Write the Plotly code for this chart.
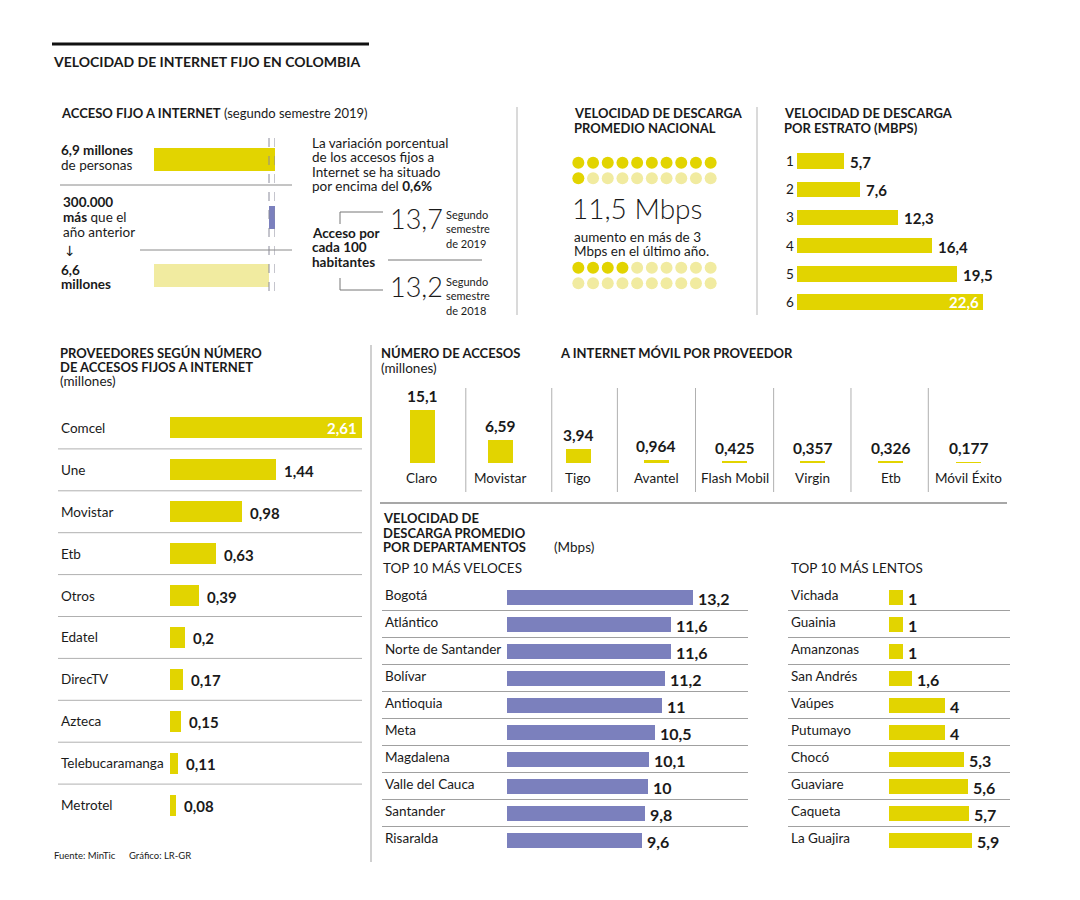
import plotly.graph_objects as go

W, H = 1080, 900
OFF = 8                      # page body margin offset
FW, FH = W - OFF, H - OFF
YELLOW = '#e2d400'
PALE = '#f1eba0'
BLUE = '#7b80bd'
LINE = '#a8a8a8'
TXT = '#1a1a1a'
FONT = 'Lato'
NARROW = 'Liberation Sans Narrow, Lato'

# ---------------- DATA ----------------
acceso_values = [6.9, 0.3, 6.6]          # millones
acceso_base = [0, 6.6, 0]
acceso_colors = [YELLOW, BLUE, PALE]
acceso_hab = ['13,7', '13,2']
acceso_hab_periodo = [['Segundo', 'semestre', 'de 2019'], ['Segundo', 'semestre', 'de 2018']]

vel_nacional = '11,5 Mbps'
dots_total = 20
dots_nacional = 11
dots_aumento = 4

estratos = ['1', '2', '3', '4', '5', '6']
estrato_vel = [5.7, 7.6, 12.3, 16.4, 19.5, 22.6]

proveedores = ['Comcel', 'Une', 'Movistar', 'Etb', 'Otros', 'Edatel', 'DirecTV',
               'Azteca', 'Telebucaramanga', 'Metrotel']
prov_accesos = [2.61, 1.44, 0.98, 0.63, 0.39, 0.2, 0.17, 0.15, 0.11, 0.08]

movil = ['Claro', 'Movistar', 'Tigo', 'Avantel', 'Flash Mobil', 'Virgin', 'Etb', 'Móvil Éxito']
movil_accesos = [15.1, 6.59, 3.94, 0.964, 0.425, 0.357, 0.326, 0.177]

dep_veloces = ['Bogotá', 'Atlántico', 'Norte de Santander', 'Bolívar', 'Antioquia', 'Meta',
               'Magdalena', 'Valle del Cauca', 'Santander', 'Risaralda']
vel_veloces = [13.2, 11.6, 11.6, 11.2, 11, 10.5, 10.1, 10, 9.8, 9.6]
dep_lentos = ['Vichada', 'Guainia', 'Amanzonas', 'San Andrés', 'Vaúpes', 'Putumayo', 'Chocó',
              'Guaviare', 'Caqueta', 'La Guajira']
vel_lentos = [1, 1, 1, 1.6, 4, 4, 5.3, 5.6, 5.7, 5.9]


def fmt(v):
    return f'{v:g}'.replace('.', ',')


def fx(x):
    return (x - OFF) / FW


def fy(y):
    return 1 - (y - OFF) / FH


layout = dict(width=FW, height=FH, margin=dict(l=0, r=0, t=0, b=0),
              paper_bgcolor='white', plot_bgcolor='rgba(0,0,0,0)',
              showlegend=False, font=dict(family=FONT, color=TXT),
              annotations=[], shapes=[])
traces = []


def sfx(n):
    return '' if n == 1 else str(n)


def axes(n, x0, x1, y0, y1, xr, yr):
    s = sfx(n)
    layout['xaxis' + s] = dict(domain=[fx(x0), fx(x1)], range=xr, anchor='y' + s,
                               visible=False, fixedrange=True)
    layout['yaxis' + s] = dict(domain=[fy(y1), fy(y0)], range=yr, anchor='x' + s,
                               visible=False, fixedrange=True)


def text(x, y, t, size=13, bold=False, anchor='left', color=TXT, family=FONT,
         xref='paper', yref='paper', weight=None, xshift=0, yshift=0, vanchor='middle'):
    if xref == 'paper':
        x = fx(x)
    if yref == 'paper':
        y = fy(y)
    f = dict(size=size, color=color, family=family)
    if weight is not None:
        f['weight'] = weight
    layout['annotations'].append(dict(
        x=x, y=y, xref=xref, yref=yref, text=('<b>%s</b>' % t) if bold else t,
        showarrow=False, xanchor=anchor, yanchor=vanchor, font=f,
        xshift=xshift, yshift=yshift))


def lines(x, y0, dy, items, **kw):
    for i, t in enumerate(items):
        text(x, y0 + i * dy, t, **kw)


def hline(x0, x1, y, color=LINE, width=1, xref='paper', yref='paper', dash=None):
    if xref == 'paper':
        x0, x1 = fx(x0), fx(x1)
    if yref == 'paper':
        y = fy(y)
    ln = dict(color=color, width=width)
    if dash:
        ln['dash'] = dash
    layout['shapes'].append(dict(type='line', x0=x0, x1=x1, y0=y, y1=y, xref=xref, yref=yref, line=ln))


def vline(x, y0, y1, color=LINE, width=1, xref='paper', yref='paper', dash=None):
    if xref == 'paper':
        x = fx(x)
    if yref == 'paper':
        y0, y1 = fy(y0), fy(y1)
    ln = dict(color=color, width=width)
    if dash:
        ln['dash'] = dash
    layout['shapes'].append(dict(type='line', x0=x, x1=x, y0=y0, y1=y1, xref=xref, yref=yref, line=ln))


# ---------------- HEADER ----------------
hline(52, 369, 44, color='#111', width=3)
text(51, 61, 'VELOCIDAD DE INTERNET FIJO EN COLOMBIA', size=14, bold=True)

# panel dividers
vline(517, 107, 315, color='#b5b5b5')
vline(757, 107, 315, color='#b5b5b5')
vline(371, 345, 862, color='#c0c0c0', width=1.5)
hline(380, 1007, 503, color='#8a8a8a', width=1.5)

# ---------------- PANEL 1: acceso fijo ----------------
text(59, 113, '<b>ACCESO FIJO A INTERNET</b> (segundo semestre 2019)', size=13)
axes(1, 154, 275, 130, 305, [0.85, 6.9], [2.5, -0.5])
traces.append(go.Bar(x=acceso_values, y=[0, 1, 2], base=acceso_base, orientation='h',
                     marker=dict(color=acceso_colors, line=dict(width=0)), width=0.39,
                     xaxis='x', yaxis='y', hoverinfo='skip'))
vline(acceso_base[1], 138, 298, color='#8a8a9a', xref='x', dash='dash')
vline(acceso_values[0], 138, 298, color='#8a8a9a', xref='x', dash='dash')
hline(60, 292, 185, color='#8a8a8a')
hline(140, 292, 250, color='#8a8a8a')
lines(59, 150, 15, ['<b>6,9 millones</b>', 'de personas'], size=13.5)
lines(61, 202, 15, ['<b>300.000</b>', '<b>más</b> que el', 'año anterior'], size=13.5)
text(70, 251, '↓', size=14, anchor='center', family='DejaVu Sans')
lines(59, 270, 14.5, ['<b>6,6</b>', '<b>millones</b>'], size=13.5)
lines(310, 143, 14.4, ['La variación porcentual', 'de los accesos fijos a',
                       'Internet se ha situado', 'por encima del <b>0,6%</b>'], size=13.5)
lines(310, 233, 14.5, ['Acceso por', 'cada 100', 'habitantes'], size=13.5, bold=True)
hline(340, 383, 212, color='#777')
vline(340, 212, 224, color='#777')
vline(340, 278, 290, color='#777')
hline(340, 383, 290, color='#777')
hline(388, 482, 260, color='#777')
text(388, 218, acceso_hab[0], size=27, weight=300)
text(388, 287, acceso_hab[1], size=27, weight=300)
lines(444, 214, 14.5, acceso_hab_periodo[0], size=11, family=NARROW)
lines(444, 281, 14.5, acceso_hab_periodo[1], size=11, family=NARROW)

# ---------------- PANEL 2: dots ----------------
lines(572, 113, 14.5, ['VELOCIDAD DE DESCARGA', 'PROMEDIO NACIONAL'], size=13, bold=True)
for n, (yy0, dark) in zip((2, 3), ((155, dots_nacional), (260, dots_aumento))):
    axes(n, 571, 718, yy0, yy0 + 31, [-0.5, 9.5], [1.5, -0.5])
    idx = list(range(dots_total))
    traces.append(go.Scatter(x=[i % 10 for i in idx], y=[i // 10 for i in idx], mode='markers',
                             marker=dict(size=12, color=[YELLOW if i < dark else PALE for i in idx],
                                         line=dict(width=0)),
                             xaxis='x' + sfx(n), yaxis='y' + sfx(n), hoverinfo='skip'))
text(570, 208, vel_nacional, size=28, weight=300)
lines(572, 237, 14.5, ['aumento en más de 3', 'Mbps en el último año.'], size=13.5)

# ---------------- PANEL 3: estrato ----------------
lines(782, 113, 14.5, ['VELOCIDAD DE DESCARGA', 'POR ESTRATO (MBPS)'], size=13, bold=True)
axes(4, 797, 1005, 147, 316, [0, 208 / 8.23], [5.5, -0.5])
traces.append(go.Bar(x=estrato_vel, y=list(range(len(estratos))), orientation='h',
                     marker=dict(color=YELLOW, line=dict(width=0)), width=0.55,
                     xaxis='x4', yaxis='y4', hoverinfo='skip'))
for i, (lab, v) in enumerate(zip(estratos, estrato_vel)):
    text(784, i, lab, size=13.5, yref='y4')
    if v == max(estrato_vel):
        text(v, i, fmt(v), size=15, bold=True, color='white', anchor='right',
             xref='x4', yref='y4', xshift=-2)
    else:
        text(v, i, fmt(v), size=15, bold=True, xref='x4', yref='y4', xshift=4, yshift=-1)

# ---------------- PANEL 4: proveedores ----------------
lines(58, 353, 14, ['PROVEEDORES SEGÚN NÚMERO', 'DE ACCESOS FIJOS A INTERNET'], size=13, bold=True)
text(58, 381, '(millones)', size=13.5)
axes(5, 170, 362, 407, 826, [0, max(prov_accesos)], [9.5, -0.5])
traces.append(go.Bar(x=prov_accesos, y=list(range(len(proveedores))), orientation='h',
                     marker=dict(color=YELLOW, line=dict(width=0)), width=0.5,
                     xaxis='x5', yaxis='y5', hoverinfo='skip'))
for i, (lab, v) in enumerate(zip(proveedores, prov_accesos)):
    text(59, i, lab, size=13.5, yref='y5')
    if v == max(prov_accesos):
        text(v, i, fmt(v), size=15, bold=True, color='white', anchor='right',
             xref='x5', yref='y5', xshift=-3)
    else:
        text(v, i, fmt(v), size=15, bold=True, xref='x5', yref='y5', xshift=6, yshift=-1)
    if i < len(proveedores) - 1:
        hline(58, 362, i + 0.5, yref='y5', color='#b0b0b0')

# ---------------- PANEL 5: movil ----------------
text(379, 353, 'NÚMERO DE ACCESOS', size=13, bold=True)
text(558, 353, 'A INTERNET MÓVIL POR PROVEEDOR', size=13, bold=True)
text(379, 368, '(millones)', size=13.5)
axes(6, 383, 1008, 393, 463, [-0.5, 7.5], [0, 20])
traces.append(go.Bar(x=list(range(len(movil))), y=movil_accesos,
                     marker=dict(color=YELLOW, line=dict(width=0)), width=0.32,
                     xaxis='x6', yaxis='y6', hoverinfo='skip'))
for i, (lab, v) in enumerate(zip(movil, movil_accesos)):
    text(i, v, fmt(v), size=15.5, bold=True, anchor='center', xref='x6', yref='y6',
         vanchor='bottom', yshift=3)
    text(i, 478, lab, size=13.5, anchor='center', xref='x6', family=NARROW)
for sx in [0.56, 1.66, 2.5, 3.5, 4.5, 5.49, 6.48]:
    vline(sx, 388, 492, xref='x6', color='#b0b0b0')

# ---------------- PANEL 6/7: departamentos ----------------
lines(381, 518, 14.5, ['VELOCIDAD DE', 'DESCARGA PROMEDIO', 'POR DEPARTAMENTOS'], size=13, bold=True)
text(552, 547, '(Mbps)', size=13.5)
text(381, 568, 'TOP 10 MÁS VELOCES', size=13.5, family=NARROW)
text(789, 568, 'TOP 10 MÁS LENTOS', size=13.5, family=NARROW)
SCALE = 14.1
axes(7, 507, 748, 583.5, 853.5, [0, 241 / SCALE], [9.5, -0.5])
axes(8, 889, 1010, 583.5, 853.5, [0, 121 / SCALE], [9.5, -0.5])
for n, names, vals, color, lx, x0, x1 in (
        (7, dep_veloces, vel_veloces, BLUE, 383, 382, 748),
        (8, dep_lentos, vel_lentos, YELLOW, 789, 788, 1010)):
    traces.append(go.Bar(x=vals, y=list(range(len(names))), orientation='h',
                         marker=dict(color=color, line=dict(width=0)), width=0.52,
                         xaxis='x' + sfx(n), yaxis='y' + sfx(n), hoverinfo='skip'))
    for i, (lab, v) in enumerate(zip(names, vals)):
        text(lx, i, lab, size=13.5, yref='y' + sfx(n), yshift=2, family=NARROW)
        text(v, i, fmt(v), size=16, bold=True, xref='x' + sfx(n), yref='y' + sfx(n),
             xshift=3, yshift=-1)
        if i < len(names) - 1:
            hline(x0, x1, i + 0.5, yref='y' + sfx(n), color='#a0a0a0')

# footer
text(52, 855, 'Fuente: MinTic', size=9.5, family=NARROW)
text(127, 855, 'Gráfico: LR-GR', size=9.5, family=NARROW)

fig = go.Figure(data=traces, layout=layout)
fig.update_layout(bargap=0)
fig.write_html('out.html', config=dict(displayModeBar=False))
